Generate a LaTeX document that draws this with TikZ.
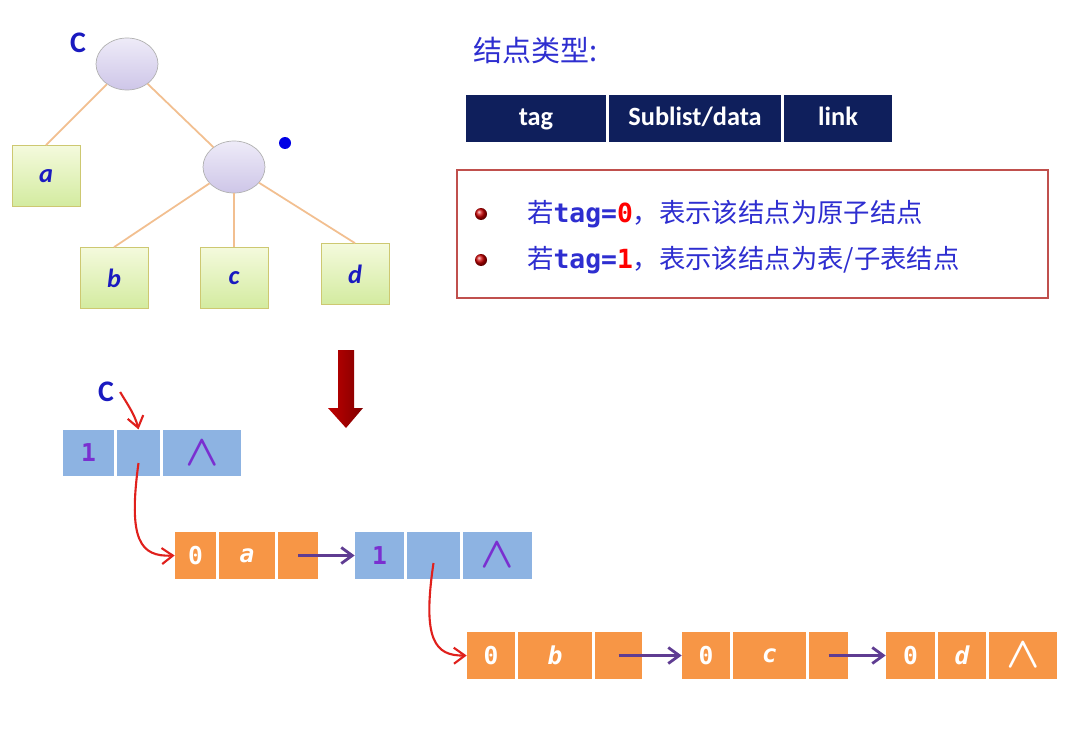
\documentclass[tikz,border=0pt]{standalone}
\usepackage{amsmath}
\usepackage{fontspec}
\setmainfont{Carlito}
\newfontfamily\cjk{Noto Sans CJK SC}
\newfontfamily\monof{DejaVu Sans Mono}
\usetikzlibrary{shapes.geometric,arrows.meta}
\definecolor{treeblue}{HTML}{1A1AC0}
\definecolor{textblue}{HTML}{2E2ED0}
\definecolor{navy}{HTML}{0F1F5C}
\definecolor{listblue}{HTML}{8DB3E2}
\definecolor{listorange}{HTML}{F79646}
\definecolor{tagpurple}{HTML}{7A2FD0}
\definecolor{nextpurple}{HTML}{5F3C92}
\definecolor{ptrred}{HTML}{E0201C}
\definecolor{branch}{HTML}{F2BF90}
\definecolor{boxred}{HTML}{C0504D}
\definecolor{elltop}{HTML}{EEEBF8}
\definecolor{ellbot}{HTML}{CEC6E8}
\definecolor{leaftop}{HTML}{F4FADC}
\definecolor{leafbot}{HTML}{D3EBA0}
\newcommand{\nullptr}{{\fontsize{23}{23}\selectfont$\boldsymbol{\wedge}$}}
\begin{document}
\begin{tikzpicture}[x=0.02cm,y=-0.02cm,
  ell/.style={ellipse,draw=gray!60,top color=elltop,bottom color=ellbot,minimum width=1.24cm,minimum height=1.04cm},
  leaf/.style={draw=olive!45,top color=leaftop,bottom color=leafbot,minimum width=1.36cm,minimum height=1.22cm,inner sep=0pt,text=treeblue,font=\bfseries\itshape\fontsize{15}{18}\selectfont},
  edge/.style={branch,line width=1pt},
  hdr/.style={fill=navy,text=white,minimum height=0.94cm,inner sep=0pt,text height=11pt,text depth=3pt,font=\bfseries\fontsize{15}{18}\selectfont},
  bcell/.style={fill=listblue,minimum height=0.93cm,inner sep=0pt,text=tagpurple,font=\monof\bfseries\fontsize{14}{16}\selectfont},
  ocell/.style={fill=listorange,minimum height=0.93cm,inner sep=0pt,text=white,font=\monof\bfseries\itshape\fontsize{14}{16}\selectfont},
  ptr/.style={ptrred,line width=1.2pt,-{Straight Barb[length=2.2mm,width=3.2mm]}},
  nxt/.style={nextpurple,line width=1.6pt,-{Straight Barb[length=2.2mm,width=3.2mm]}},
  bullet/.style={circle,inner sep=0pt,minimum size=0.24cm,ball color=red!80!black},
  cname/.style={text=treeblue,font=\bfseries\fontsize{17}{20}\selectfont}]

\fill[white] (0,0) rectangle (1085,740);
\useasboundingbox (0,0) rectangle (1085,740);

\node[ell] (root) at (127,64) {};
\node[ell] (sub) at (234,167) {};
\node[cname] (cT) at (78,43) {C};
\node[circle,fill=blue!90!black,inner sep=0pt,minimum size=0.24cm] (dot) at (285,143) {};

\node[leaf] (a) at (46,176) {a};
\node[leaf] (b) at (114,278) {b};
\node[leaf] (c) at (234,278) {c};
\node[leaf] (d) at (355,274) {d};

\draw[edge] (root) -- (a.north);
\draw[edge] (root) -- (sub);
\draw[edge] (sub) -- (b.north);
\draw[edge] (sub) -- (c.north);
\draw[edge] (sub) -- (d.north);

\node[anchor=west,text=textblue] (title) at (467,50) {\cjk\fontsize{16.5}{18}\selectfont 结点类型:};

\node[hdr,minimum width=2.8cm] (tag) at (536,118.5) {tag};
\node[hdr,minimum width=3.44cm] (data) at (695,118.5) {Sublist/data};
\node[hdr,minimum width=2.16cm] (link) at (838,118.5) {link};

\node[draw=boxred,line width=1.1pt,minimum width=11.82cm,minimum height=2.56cm] (rules) at (752.5,234) {};
\node[bullet] (bulA) at (481,214) {};
\node[bullet] (bulB) at (481,260) {};
\node[anchor=west,text=textblue,font=\fontsize{15}{18}\selectfont] (ruleA) at (521,214)
  {{\cjk 若}{\monof\bfseries tag=\textcolor{red}{0}}{\cjk ，表示该结点为原子结点}};
\node[anchor=west,text=textblue,font=\fontsize{15}{18}\selectfont] (ruleB) at (521,260)
  {{\cjk 若}{\monof\bfseries tag=\textcolor{red}{1}}{\cjk ，表示该结点为表/子表结点}};

\shade[left color=red!75!black,right color=red!50!black] (338,350) -- (354,350) -- (354,408) -- (363,408) -- (346,428) -- (328,408) -- (338,408) -- cycle;

\node[cname] (cL) at (106,392) {C};

\node[bcell,minimum width=1.02cm] (top1) at (88.5,453) {1};
\node[bcell,minimum width=0.86cm] (top2) at (138.5,453) {};
\node[bcell,minimum width=1.56cm] (top3) at (202,453) {\nullptr};

\node[ocell,minimum width=0.82cm] (a1) at (195.5,555.5) {\upshape 0};
\node[ocell,minimum width=1.12cm] (a2) at (247,555.5) {a};
\node[ocell,minimum width=0.8cm] (a3) at (298,555.5) {};

\node[bcell,minimum width=0.98cm] (s1) at (379.5,555.5) {1};
\node[bcell,minimum width=1.06cm] (s2) at (433.5,555.5) {};
\node[bcell,minimum width=1.38cm] (s3) at (497.5,555.5) {\nullptr};

\node[ocell,minimum width=0.96cm] (b1) at (491,655.5) {\upshape 0};
\node[ocell,minimum width=1.48cm] (b2) at (555,655.5) {b};
\node[ocell,minimum width=0.94cm] (b3) at (618.5,655.5) {};

\node[ocell,minimum width=0.96cm] (c1) at (706,655.5) {\upshape 0};
\node[ocell,minimum width=1.46cm] (c2) at (769.5,655.5) {c};
\node[ocell,minimum width=0.78cm] (c3) at (828.5,655.5) {};

\node[ocell,minimum width=0.98cm] (d1) at (910.5,655.5) {\upshape 0};
\node[ocell,minimum width=0.96cm] (d2) at (962,655.5) {d};
\node[ocell,minimum width=1.36cm] (d3) at (1023,655.5) {\nullptr};

\draw[ptr] (cL.east) .. controls (128,405) and (135,415) .. (top2.north);
\draw[ptr] ([yshift=-0.2cm]top2.center) .. controls (128,540) and (140,557) .. (a1.west);
\draw[ptr] ([yshift=-0.15cm]s2.center) .. controls (422,640) and (435,656) .. (b1.west);

\draw[nxt] (a3.center) -- (s1.west);
\draw[nxt] (b3.center) -- (c1.west);
\draw[nxt] (c3.center) -- (d1.west);
\end{tikzpicture}
\end{document}
